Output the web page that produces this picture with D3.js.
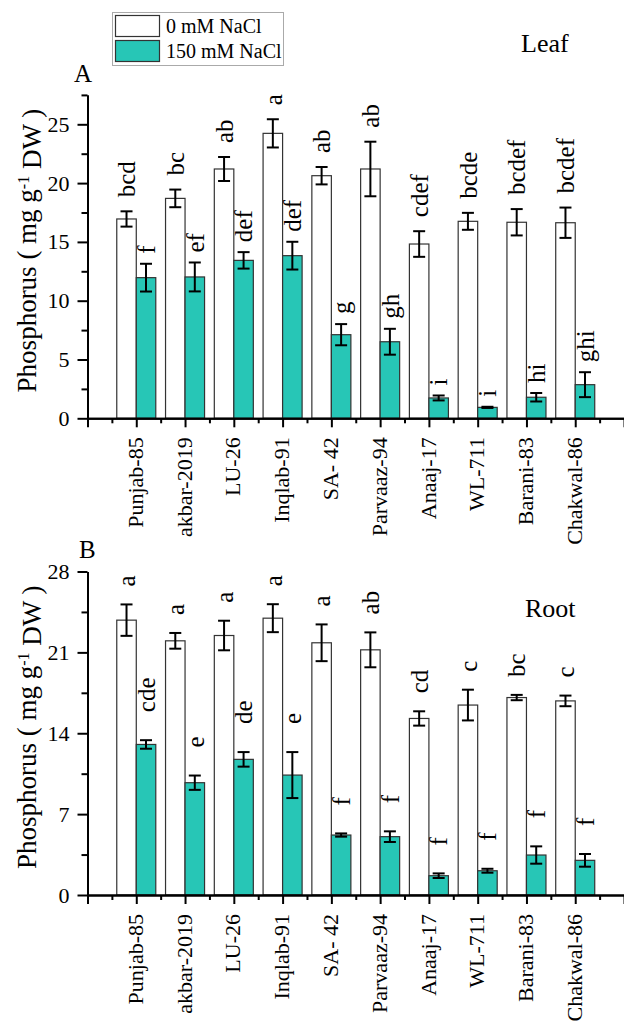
<!DOCTYPE html>
<html>
<head>
<meta charset="utf-8">
<script src="https://cdn.jsdelivr.net/npm/d3@7"></script>
<style>
  html, body { margin: 0; padding: 0; background: #fff; }
  svg { display: block; }
  text { font-family: "Liberation Serif", "Times New Roman", serif; fill: #000; }
</style>
</head>
<body>
<svg id="chart" width="624" height="1022"></svg>
<script>
// ---- data ----
const categories = ["Punjab-85", "akbar-2019", "LU-26", "Inqlab-91", "SA- 42", "Parvaaz-94", "Anaaj-17", "WL-711", "Barani-83", "Chakwal-86"];
const seriesNames = ["0 mM NaCl", "150 mM NaCl"];

const leafControl = [16.95, 18.7, 21.2, 24.23, 20.63, 21.2, 14.82, 16.75, 16.67, 16.63];
const leafControlErr = [0.65, 0.75, 1.02, 1.2, 0.74, 2.32, 1.09, 0.72, 1.12, 1.29];
const leafSalt = [11.96, 12.02, 13.43, 13.83, 7.11, 6.51, 1.73, 0.93, 1.79, 2.86];
const leafSaltErr = [1.18, 1.23, 0.7, 1.18, 0.9, 1.1, 0.21, 0.05, 0.36, 1.06];
const leafControlLetters = ["bcd", "bc", "ab", "a", "ab", "ab", "cdef", "bcde", "bcdef", "bcdef"];
const leafSaltLetters = ["f", "ef", "def", "def", "g", "gh", "i", "i", "hi", "ghi"];

const rootControl = [23.79, 22.0, 22.46, 23.96, 21.83, 21.22, 15.28, 16.44, 17.09, 16.8];
const rootControlErr = [1.36, 0.68, 1.28, 1.21, 1.59, 1.51, 0.62, 1.33, 0.23, 0.46];
const rootSalt = [13.03, 9.72, 11.74, 10.38, 5.19, 5.05, 1.67, 2.1, 3.46, 3.0];
const rootSaltErr = [0.37, 0.62, 0.63, 1.99, 0.14, 0.46, 0.2, 0.17, 0.75, 0.55];
const rootControlLetters = ["a", "a", "a", "a", "a", "ab", "cd", "c", "bc", "c"];
const rootSaltLetters = ["cde", "e", "de", "e", "f", "f", "f", "f", "f", "f"];

const leafTicks = [0, 5, 10, 15, 20, 25];
const leafMinorTicks = [2.5, 7.5, 12.5, 17.5, 22.5, 27.5];
const rootTicks = [0, 7, 14, 21, 28];
const rootMinorTicks = [3.5, 10.5, 17.5, 24.5];

// ---- layout ----
const SERIF = "Liberation Serif";
const svg = d3.select("#chart");
const TEAL = "#27c6b6";
const x = d3.scaleLinear().domain([0, 11]).range([87.5, 624]);
const barW = x(0.4) - x(0);

const panels = [
  { tag: "A", title: "Leaf", yDomain: [0, 27.5], yRange: [418.3, 94.9], ticks: leafTicks, minor: leafMinorTicks,
    ctrl: leafControl, ctrlErr: leafControlErr, salt: leafSalt, saltErr: leafSaltErr,
    ctrlLet: leafControlLetters, saltLet: leafSaltLetters, gapC: 14, gapS: 10,
    tagPos: [74, 82], titlePos: [521, 52] },
  { tag: "B", title: "Root", yDomain: [0, 28], yRange: [895, 571.5], ticks: rootTicks, minor: rootMinorTicks,
    ctrl: rootControl, ctrlErr: rootControlErr, salt: rootSalt, saltErr: rootSaltErr,
    ctrlLet: rootControlLetters, saltLet: rootSaltLetters, gapC: 18, gapS: 28,
    tagPos: [79, 558], titlePos: [525, 617] }
];

panels.forEach(p => {
  const y = d3.scaleLinear().domain(p.yDomain).range(p.yRange);
  const g = svg.append("g");
  const y0 = y(0);

  const groups = [
    { vals: p.ctrl, errs: p.ctrlErr, lets: p.ctrlLet, fill: "#fff", off: -0.4, gap: p.gapC },
    { vals: p.salt, errs: p.saltErr, lets: p.saltLet, fill: TEAL, off: 0, gap: p.gapS }
  ];
  groups.forEach(s => {
    const d = s.vals.map((v, i) => ({ v, e: s.errs[i], l: s.lets[i], i }));
    g.selectAll(null).data(d).enter().append("rect")
      .attr("x", k => x(k.i + 1 + s.off))
      .attr("y", k => y(k.v))
      .attr("width", barW)
      .attr("height", k => y0 - y(k.v))
      .attr("fill", s.fill)
      .attr("stroke", "#333")
      .attr("stroke-width", 1.2);
    const cx = k => x(k.i + 1 + s.off + 0.2);
    const eb = g.selectAll(null).data(d).enter().append("g")
      .attr("stroke", "#000").attr("stroke-width", 2);
    eb.append("line").attr("x1", cx).attr("x2", cx)
      .attr("y1", k => y(k.v + k.e)).attr("y2", k => y(k.v - k.e));
    eb.append("line").attr("x1", k => cx(k) - 6).attr("x2", k => cx(k) + 6)
      .attr("y1", k => y(k.v + k.e)).attr("y2", k => y(k.v + k.e));
    eb.append("line").attr("x1", k => cx(k) - 6).attr("x2", k => cx(k) + 6)
      .attr("y1", k => y(k.v - k.e)).attr("y2", k => y(k.v - k.e));
    g.selectAll(null).data(d).enter().append("text")
      .attr("transform", k => `translate(${cx(k)},${y(k.v + k.e) - s.gap}) rotate(-90)`)
      .attr("dy", "0.35em")
      .attr("text-anchor", "start")
      .style("font-size", "25px")
      .text(k => k.l);
  });

  // y axis
  const yAxis = d3.axisLeft(y).tickValues(p.ticks).tickSize(10).tickSizeOuter(0).tickPadding(8);
  const ya = g.append("g").attr("transform", `translate(${x(0)},0)`).call(yAxis);
  ya.selectAll("text").style("font-size", "22px");
  const yMinor = d3.axisLeft(y).tickValues(p.minor).tickSize(6).tickSizeOuter(0).tickFormat("");
  g.append("g").attr("transform", `translate(${x(0)},0)`).call(yMinor);

  // x axis
  const xMajor = d3.axisBottom(x).tickValues(d3.range(0, 12)).tickSize(9).tickSizeOuter(0).tickFormat("");
  g.append("g").attr("transform", `translate(0,${y0})`).call(xMajor);
  const xMinor = d3.axisBottom(x).tickValues(d3.range(0, 11).map(v => v + 0.5)).tickSize(5).tickSizeOuter(0).tickFormat("");
  g.append("g").attr("transform", `translate(0,${y0})`).call(xMinor);

  g.selectAll(".domain, .tick line").attr("stroke", "#000").attr("stroke-width", 2);

  // category labels
  g.selectAll(null).data(categories).enter().append("text")
    .attr("transform", (c, i) => `translate(${x(i + 1)},${y0 + 19}) rotate(-90)`)
    .attr("dy", "0.3em")
    .attr("text-anchor", "end")
    .style("font-size", "22px")
    .text(c => c);

  // y axis title
  const midY = (p.yRange[0] + p.yRange[1]) / 2 - 6;
  const t = g.append("text")
    .attr("transform", `translate(36,${midY}) rotate(-90)`)
    .attr("text-anchor", "middle")
    .style("font-size", "27px");
  t.append("tspan").text("Phosphorus ( mg g");
  t.append("tspan").attr("dy", "-0.45em").style("font-size", "16px").text("-1");
  t.append("tspan").attr("dy", "0.45em").text(" DW )");

  g.append("text").attr("x", p.tagPos[0]).attr("y", p.tagPos[1]).style("font-size", "25px").text(p.tag);
  g.append("text").attr("x", p.titlePos[0]).attr("y", p.titlePos[1]).style("font-size", "26px").text(p.title);
});

// legend
const lg = svg.append("g");
lg.append("rect").attr("x", 112.5).attr("y", 12.5).attr("width", 171).attr("height", 53)
  .attr("fill", "#fff").attr("stroke", "#aaa").attr("stroke-width", 1);
const legendFills = ["#fff", TEAL];
seriesNames.forEach((n, i) => {
  lg.append("rect").attr("x", 115.5).attr("y", 15.5 + i * 25).attr("width", 44).attr("height", 21)
    .attr("fill", legendFills[i]).attr("stroke", "#333").attr("stroke-width", 1.2);
  lg.append("text").attr("x", 166).attr("y", 33 + i * 25).style("font-size", "20px").text(n);
});

// force serif family everywhere (axes set sans-serif on their groups)
svg.selectAll("g").attr("font-family", SERIF);
svg.selectAll("text").style("font-family", SERIF);
</script>
</body>
</html>
